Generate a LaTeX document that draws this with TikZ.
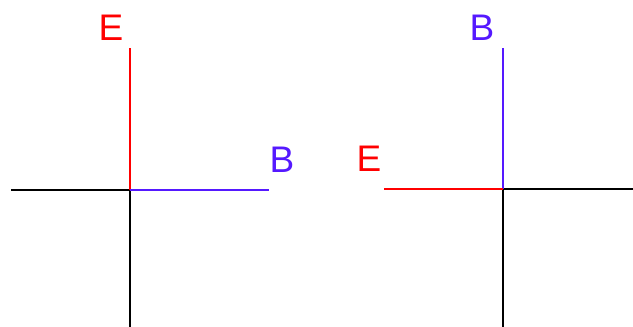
\documentclass[tikz,border=0pt]{standalone}
\usepackage{fontspec}
\setmainfont{Liberation Sans}
\definecolor{eblue}{RGB}{85,25,255}
\definecolor{ered}{RGB}{255,0,0}
\begin{document}
\begin{tikzpicture}[x=1pt,y=-1pt,
  ln/.style={line width=1.5pt},
  lbl/.style={font=\fontsize{37}{37}\selectfont, inner sep=0pt}]
\useasboundingbox (0,0) rectangle (633,327);
% left figure
\coordinate (lc) at (130,190);
\coordinate (lt) at (130,48);
\coordinate (lb) at (130,327);
\coordinate (ll) at (11,190);
\coordinate (lr) at (269,190);
\draw[ln,black] (lc) -- (lb);
\draw[ln,black] (ll) -- (lc);
\draw[ln,ered] (lc) -- (lt);
\draw[ln,eblue] (lc) -- (lr);
\node[lbl,text=ered] (lE) at (111,27.5) {E};
\node[lbl,text=eblue] (lB) at (282,160) {B};
% right figure
\coordinate (rc) at (503,189);
\coordinate (rt) at (503,48);
\coordinate (rb) at (503,327);
\coordinate (rl) at (384,189);
\coordinate (rr) at (633,189);
\draw[ln,black] (rc) -- (rb);
\draw[ln,black] (rc) -- (rr);
\draw[ln,eblue] (rc) -- (rt);
\draw[ln,ered] (rl) -- (rc);
\node[lbl,text=ered] (rE) at (369,159) {E};
\node[lbl,text=eblue] (rB) at (482,27.5) {B};
\end{tikzpicture}
\end{document}
